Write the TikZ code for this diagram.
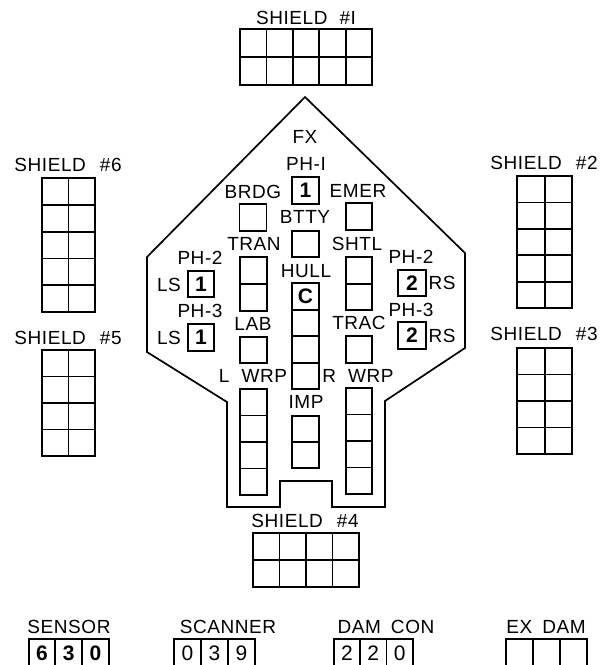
\documentclass[tikz,border=0pt]{standalone}
\usepackage{fontspec}
\setmainfont[LetterSpace=3]{Liberation Sans}
\usepackage{tikz}

\tikzset{
    lbl/.style={inner sep=0pt, font=\fontsize{19}{19}\selectfont},
    cellbox/.style 2 args={draw, rectangle, line width=1.8pt, inner sep=0pt, outer sep=0pt, minimum width=#1, minimum height=#2},
    digit/.style={font=\fontsize{21}{21}\selectfont\bfseries},
    plaindigit/.style={font=\fontsize{21}{21}\selectfont},
    hullline/.style={line width=1.7pt, line join=miter},
}

\begin{document}
\begin{tikzpicture}[x=1pt,y=-1pt]
    \clip (0,0) rectangle (603,665);

    % ship outline
    \coordinate (nose) at (305,97);
    \coordinate (notch-l) at (280,481);
    \coordinate (notch-r) at (332,481);
    \draw[hullline] (nose) -- (465,253) -- (465,348) -- (385,401) -- (385,507) -- (332,507) -- (notch-r) -- (notch-l) -- (280,507) -- (227,507) -- (227,402) -- (147,352) -- (147,257) -- cycle;

    % shields
    \path (306,17.5) node[lbl] (sh1-name) {SHIELD\hspace{12pt}\#I};
    \foreach \i in {0,...,4} \foreach \j in {0,1}
        \path (253.2+26.4*\i,43+28*\j) node[cellbox={26.4pt}{28pt}] (sh1-\i-\j) {};
    \path (544,163) node[lbl] (sh2-name) {SHIELD\hspace{14pt}\#2};
    \foreach \i in {0,1} \foreach \j in {0,...,4}
        \path (531+27.5*\i,189.2+26.4*\j) node[cellbox={27.5pt}{26.4pt}] (sh2-\i-\j) {};
    \path (544,334) node[lbl] (sh3-name) {SHIELD\hspace{14pt}\#3};
    \foreach \i in {0,1} \foreach \j in {0,...,3}
        \path (531+27.5*\i,361.2+26.5*\j) node[cellbox={27.5pt}{26.5pt}] (sh3-\i-\j) {};
    \path (305,521) node[lbl] (sh4-name) {SHIELD\hspace{14pt}\#4};
    \foreach \i in {0,...,3} \foreach \j in {0,1}
        \path (266.2+26.5*\i,546.5+27*\j) node[cellbox={26.5pt}{27pt}] (sh4-\i-\j) {};
    \path (68,338) node[lbl] (sh5-name) {SHIELD\hspace{14pt}\#5};
    \foreach \i in {0,1} \foreach \j in {0,...,3}
        \path (55.2+26.5*\i,363.2+26.5*\j) node[cellbox={26.5pt}{26.5pt}] (sh5-\i-\j) {};
    \path (68,165) node[lbl] (sh6-name) {SHIELD\hspace{14pt}\#6};
    \foreach \i in {0,1} \foreach \j in {0,...,4}
        \path (55.2+26.5*\i,191.4+26.8*\j) node[cellbox={26.5pt}{26.8pt}] (sh6-\i-\j) {};

    % bow systems
    \path (305,137) node[lbl] (fx-name) {FX};
    \path (306,164) node[lbl] (ph1-name) {PH-I};
    \path (305.5,190.5) node[cellbox={27pt}{27pt},digit] (ph1-box) {1};
    \path (253,192) node[lbl] (brdg-name) {BRDG};
    \path (253,217.5) node[cellbox={27pt}{27pt}] (brdg-box) {};
    \path (358,191) node[lbl] (emer-name) {EMER};
    \path (359,216.5) node[cellbox={26.5pt}{27pt}] (emer-box) {};
    \path (305,217) node[lbl] (btty-name) {BTTY};
    \path (305.5,244) node[cellbox={27pt}{26.5pt}] (btty-box) {};

    % phasers
    \path (200,258) node[lbl] (ph2l-name) {PH-2};
    \path (169,285) node[lbl] (ls2-name) {LS};
    \path (201,284) node[cellbox={26.5pt}{26.5pt},digit] (ph2l-box) {1};
    \path (200,311) node[lbl] (ph3l-name) {PH-3};
    \path (169,338) node[lbl] (ls3-name) {LS};
    \path (201,337.5) node[cellbox={26.5pt}{26.5pt},digit] (ph3l-box) {1};
    \path (411,257) node[lbl] (ph2r-name) {PH-2};
    \path (442,283) node[lbl] (rs2-name) {RS};
    \path (412,283) node[cellbox={28pt}{26.5pt},digit] (ph2r-box) {2};
    \path (411,310) node[lbl] (ph3r-name) {PH-3};
    \path (442,336) node[lbl] (rs3-name) {RS};
    \path (412,335.5) node[cellbox={28pt}{26.5pt},digit] (ph3r-box) {2};

    % centre columns
    \path (254,244) node[lbl] (tran-name) {TRAN};
    \foreach \j in {0,1}
        \path (253.5,270.5+27*\j) node[cellbox={27pt}{27pt}] (tran-\j) {};
    \path (357,244) node[lbl] (shtl-name) {SHTL};
    \foreach \j in {0,1}
        \path (359,270.5+26.5*\j) node[cellbox={26.5pt}{26.5pt}] (shtl-\j) {};
    \path (306,271) node[lbl] (hull-name) {HULL};
    \path (305.5,296.5) node[cellbox={27pt}{27pt},digit] (hull-0) {C};
    \foreach \j in {1,2,3}
        \path (305.5,296.5+26.5*\j) node[cellbox={27pt}{26.5pt}] (hull-\j) {};
    \path (253,324) node[lbl] (lab-name) {LAB};
    \path (253.5,350) node[cellbox={27pt}{26.5pt}] (lab-box) {};
    \path (359,323) node[lbl] (trac-name) {TRAC};
    \path (359,349.5) node[cellbox={26.5pt}{27pt}] (trac-box) {};

    % warp and impulse
    \path (253,376) node[lbl] (lwrp-name) {L\hspace{12pt}WRP};
    \foreach \j in {0,...,3}
        \path (253.5,402.2+26.5*\j) node[cellbox={27pt}{26.5pt}] (lwrp-\j) {};
    \path (358,376) node[lbl] (rwrp-name) {R\hspace{12pt}WRP};
    \foreach \j in {0,...,3}
        \path (359,401.2+26.5*\j) node[cellbox={26.5pt}{26.5pt}] (rwrp-\j) {};
    \path (306,402) node[lbl] (imp-name) {IMP};
    \foreach \j in {0,1}
        \path (305.5,429+26*\j) node[cellbox={27pt}{26pt}] (imp-\j) {};

    % readouts
    \path (69,627) node[lbl] (sensor-name) {SENSOR};
    \path (228,627) node[lbl] (scanner-name) {SCANNER};
    \path (386,627) node[lbl] (damcon-name) {DAM\hspace{10pt}CON};
    \path (546,627) node[lbl] (exdam-name) {EX\hspace{10pt}DAM};
    \foreach \i/\d in {0/6,1/3,2/0}
        \path (42+26.7*\i,656) node[cellbox={26.7pt}{34pt}] (sensor-\i) {}
            (42+26.7*\i,653) node[digit] (sensor-val-\i) {\d};
    \foreach \i/\d in {0/0,1/3,2/9}
        \path (187.5+27*\i,656) node[cellbox={27pt}{34pt}] (scanner-\i) {}
            (187.5+27*\i,653) node[plaindigit] (scanner-val-\i) {\d};
    \foreach \i/\d in {0/2,1/2,2/0}
        \path (347+26.3*\i,656) node[cellbox={26.3pt}{34pt}] (damcon-\i) {}
            (347+26.3*\i,653) node[plaindigit] (damcon-val-\i) {\d};
    \foreach \i in {0,1,2}
        \path (519.5+27*\i,656) node[cellbox={27pt}{34pt}] (exdam-\i) {};
\end{tikzpicture}
\end{document}
